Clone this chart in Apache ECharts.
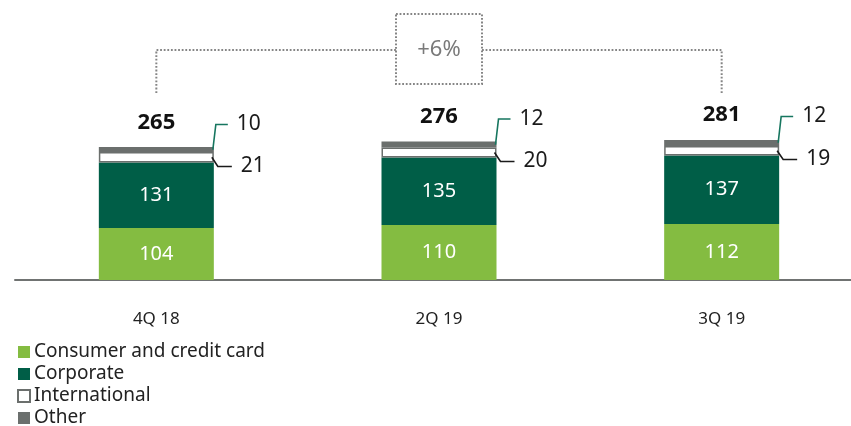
<!DOCTYPE html>
<html>
<head>
<meta charset="utf-8">
<script src="https://cdn.jsdelivr.net/npm/echarts@6/dist/echarts.min.js"></script>
<style>
html,body{margin:0;padding:0;background:#fff;}
#chart{width:851px;height:426px;}
</style>
</head>
<body>
<div id="chart"></div>
<script>
const categories = ['4Q 18', '2Q 19', '3Q 19'];
const consumer = [104, 110, 112];
const corporate = [131, 135, 137];
const international = [21, 20, 19];
const other = [10, 12, 12];
const totals = [265, 276, 281];
const seriesNames = ['Consumer and credit card', 'Corporate', 'International', 'Other'];
const growthLabel = '+6%';

const FONT = 'Noto Sans';
const C_LIGHT = '#84bc41';
const C_DARK = '#005e47';
const C_GRAY = '#6b6f6d';
const C_TEAL = '#16765f';
const BAR_W = 115;

const chart = echarts.init(document.getElementById('chart'));

const calloutData = categories.map((c, i) => [
  i,
  consumer[i] + corporate[i],
  consumer[i] + corporate[i] + international[i],
  totals[i],
  international[i],
  other[i]
]);

const insideLabel = {
  show: true, position: 'inside', color: '#fff', fontSize: 20, fontFamily: FONT
};

const option = {
  animation: false,
  textStyle: { fontFamily: FONT },
  grid: { left: 15, right: -12, top: 130, bottom: 146, outerBoundsMode: 'none', containLabel: false },
  legend: {
    orient: 'vertical', left: 17, top: 342, height: 100, padding: 0,
    itemWidth: 12, itemHeight: 12, itemGap: 2,
    icon: 'rect',
    data: seriesNames,
    textStyle: { color: '#222', fontSize: 19, lineHeight: 20, fontFamily: FONT, padding: [0, 0, 0, -1] }
  },
  xAxis: {
    type: 'category', data: categories, offset: 12,
    axisLine: { show: true, lineStyle: { color: '#707372', width: 2 } },
    axisTick: { show: false },
    axisLabel: { color: '#222', fontSize: 17, margin: 19, fontFamily: FONT }
  },
  yAxis: { type: 'value', min: 0, max: 300, show: false, splitLine: { show: false } },
  series: [
    { name: seriesNames[0], type: 'bar', stack: 's', barWidth: BAR_W, data: consumer,
      itemStyle: { color: C_LIGHT }, label: insideLabel },
    { name: seriesNames[1], type: 'bar', stack: 's', barWidth: BAR_W, data: corporate,
      itemStyle: { color: C_DARK }, label: insideLabel },
    { name: seriesNames[2], type: 'bar', stack: 's', barWidth: BAR_W, data: international,
      itemStyle: { color: '#ffffff', borderColor: C_GRAY, borderWidth: 1.5 } },
    { name: seriesNames[3], type: 'bar', stack: 's', barWidth: BAR_W, data: other,
      itemStyle: { color: C_GRAY } },
    {
      type: 'custom', name: 'callouts', data: calloutData, silent: true, z: 10,
      renderItem: function (params, api) {
        const i = api.value(0);
        const base = api.coord([i, 0]);
        const intlBottom = api.coord([i, api.value(1)])[1];
        const otherBottom = api.coord([i, api.value(2)])[1];
        const topY = api.coord([i, api.value(3)])[1];
        const xr = base[0] + BAR_W / 2;
        const otherMid = (otherBottom + topY) / 2;
        const intlMid = (intlBottom + otherBottom) / 2;
        const oY = topY - 23;
        const iY = intlBottom + 4;
        return {
          type: 'group',
          children: [
            { type: 'polyline', shape: { points: [[xr - 1, otherMid], [xr + 2, oY], [xr + 14, oY]] },
              style: { stroke: C_TEAL, lineWidth: 1.6, fill: null } },
            { type: 'text', style: { x: xr + 23, y: oY, text: String(api.value(5)), fill: '#1a1a1a',
              font: '21px "' + FONT + '"', verticalAlign: 'middle', align: 'left' } },
            { type: 'polyline', shape: { points: [[xr - 2, intlMid], [xr + 4, iY], [xr + 18, iY]] },
              style: { stroke: '#1a1a1a', lineWidth: 1.6, fill: null } },
            { type: 'text', style: { x: xr + 27, y: iY, text: String(api.value(4)), fill: '#1a1a1a',
              font: '21px "' + FONT + '"', verticalAlign: 'middle', align: 'left' } },
            { type: 'text', style: { x: base[0], y: topY - 25, text: String(api.value(3)), fill: '#111',
              font: 'bold 22px "' + FONT + '"', verticalAlign: 'middle', align: 'center' } }
          ]
        };
      }
    }
  ]
};
chart.setOption(option);

// Growth bracket between first and last bars
const x0 = chart.convertToPixel({ xAxisIndex: 0 }, 0);
const x1 = chart.convertToPixel({ xAxisIndex: 0 }, 1);
const x2 = chart.convertToPixel({ xAxisIndex: 0 }, categories.length - 1);
const dotStyle = { stroke: '#858585', lineWidth: 2, lineDash: [1.8, 1.8], fill: null };
const boxL = x1 - 43, boxR = x1 + 43, boxT = 14, boxB = 84, midY = 50;
chart.setOption({
  graphic: [
    { type: 'polyline', shape: { points: [[x0, 93], [x0, midY], [boxL, midY]] }, style: dotStyle },
    { type: 'polyline', shape: { points: [[boxR, midY], [x2, midY], [x2, 93]] }, style: dotStyle },
    { type: 'rect', shape: { x: boxL, y: boxT, width: boxR - boxL, height: boxB - boxT }, style: dotStyle },
    { type: 'text', x: x1, y: midY, style: { text: growthLabel, fill: '#7a7a7a', font: '22px "' + FONT + '"',
      align: 'center', verticalAlign: 'middle' } }
  ]
});
</script>
</body>
</html>
